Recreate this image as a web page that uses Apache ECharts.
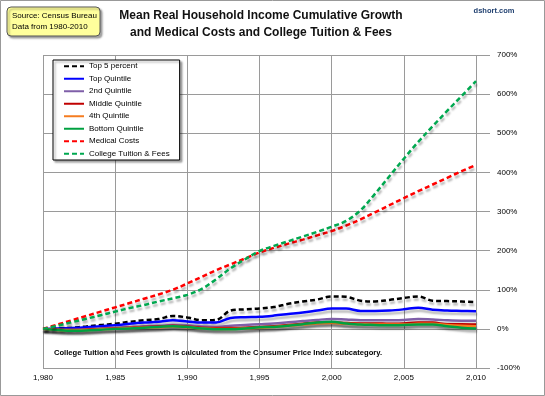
<!DOCTYPE html>
<html>
<head>
<meta charset="utf-8">
<script src="https://cdn.jsdelivr.net/npm/echarts@6/dist/echarts.min.js"></script>
<style>html,body{margin:0;padding:0;background:#fff;}#c{width:545px;height:396px;}</style>
</head>
<body>
<div id="c"></div>
<script>
var years = [1980,1981,1982,1983,1984,1985,1986,1987,1988,1989,1990,1991,1992,1993,1994,1995,1996,1997,1998,1999,2000,2001,2002,2003,2004,2005,2006,2007,2008,2009,2010];
var top5 = [0,1,3,6,10,13,18,22,25,33,29,22,23,47,50,52,56,64,70,75,83,82,72,70,74,79,83,72,71,70,68];
var topQuintile = [0,1,2,4,7,9,13,16,18,22,19,16,16,28,30,31,34,38,42,47,52,52,46,46,47,50,54,49,47,46,45];
var secondQuintile = [0,-1,-2,-1,1,3,5,7,8,10,9,6,5,8,10,12,14,17,20,23,25,24,22,22,22,23,25,24,22,21,21];
var middleQuintile = [0,-2,-3,-2,0,1,3,5,6,8,6,3,2,2,3,5,7,10,13,16,17,15,14,14,13,14,16,16,12,12,11];
var fourthQuintile = [0,-3,-4,-3,-1,0,2,3,4,6,4,1,0,0,1,3,5,8,11,14,15,13,12,11,11,11,13,13,10,8,7];
var bottomQuintile = [0,-3,-5,-4,-2,0,1,3,5,7,5,1,-1,-1,1,4,5,8,12,16,18,14,11,10,9,10,11,11,7,3,1];
var medicalCosts = [0,11,22,33,44,55,66,77,88,100,116,133,150,165,180,195,207,218,228,239,250,264,280,298,316,334,352,369,386,403,419];
var collegeTuition = [0,8,17,26,35,44,53,61,70,78,87,102,127,155,178,199,212,224,236,248,261,276,303,345,390,435,478,518,557,595,633];

var seriesNames = ['Top 5 percent','Top Quintile','2nd Quintile','Middle Quintile','4th Quintile','Bottom Quintile','Medical Costs','College Tuition & Fees'];
var seriesData = [top5, topQuintile, secondQuintile, middleQuintile, fourthQuintile, bottomQuintile, medicalCosts, collegeTuition];
var seriesColors = ['#000000','#0000FF','#7F5FA8','#C00000','#F57C20','#00A040','#FF0000','#00A850'];
var seriesDashed = [true,false,false,false,false,false,true,true];

function pairs(arr){ return years.map(function(y,i){ return [y, arr[i]]; }); }

var font = 'Liberation Sans, Arial, sans-serif';
var chart = echarts.init(document.getElementById('c'), null, {renderer:'canvas'});

var series = seriesNames.map(function(n,i){
  return {
    name: n, type: 'line', data: pairs(seriesData[i]), showSymbol: false, symbol: 'none',
    smooth: 0.35,
    lineStyle: { color: seriesColors[i], width: 2.5, type: seriesDashed[i] ? [5,3] : 'solid',
      shadowColor: 'rgba(0,0,0,0.28)', shadowBlur: 2, shadowOffsetX: 1, shadowOffsetY: 3 },
    itemStyle: { color: seriesColors[i] },
    emphasis: { disabled: true }
  };
});

chart.setOption({
  animation: false,
  backgroundColor: '#ffffff',
  grid: { left: 43, right: 69, top: 55, bottom: 28 },
  xAxis: {
    type: 'value', min: 1980, max: 2010, interval: 5,
    axisLine: { show: false }, axisTick: { show: false },
    axisLabel: { fontSize: 8, color: '#000', fontFamily: font, margin: 6 },
    splitLine: { show: true, lineStyle: { color: '#9a9a9a', width: 1 } }
  },
  yAxis: {
    type: 'value', position: 'right', min: -100, max: 700, interval: 100,
    axisLine: { show: false },
    axisTick: { show: true, length: 14, lineStyle: { color: '#9a9a9a' } },
    axisLabel: { fontSize: 8, color: '#000', fontFamily: font, margin: 21, formatter: '{value}%' },
    splitLine: { show: true, lineStyle: { color: '#9a9a9a', width: 1 } }
  },
  legend: {
    data: seriesNames, orient: 'vertical', left: 53, top: 60,
    itemWidth: 20, itemHeight: 9, itemGap: 0,
    padding: [0, 10, 0, 10],
    itemStyle: { opacity: 0 },
    backgroundColor: '#fff', borderColor: '#000', borderWidth: 1,
    shadowColor: 'rgba(0,0,0,0.35)', shadowBlur: 2, shadowOffsetX: 2, shadowOffsetY: 2,
    textStyle: { fontSize: 8, color: '#000', fontFamily: font, lineHeight: 12.5 }
  },
  graphic: [
    { type: 'rect', shape: { x: 0.5, y: 0.5, width: 544, height: 395 }, style: { fill: 'none', stroke: '#999', lineWidth: 1 }, silent: true },
    { type: 'rect', shape: { x: 7, y: 7, width: 93, height: 29, r: 4 },
      style: { fill: '#FFFF9C', stroke: '#555', lineWidth: 1, shadowColor: 'rgba(0,0,0,0.35)', shadowBlur: 2, shadowOffsetX: 2, shadowOffsetY: 2 } },
    { type: 'text', left: 12, top: 11, style: { text: 'Source: Census Bureau\nData from 1980-2010', fontSize: 8, lineHeight: 10.5, fill: '#000', fontFamily: font } },
    { type: 'text', x: 261, y: 16, style: { text: 'Mean Real Household Income Cumulative Growth', fontSize: 12, fontWeight: 'bold', fill: '#111', fontFamily: font, align: 'center', verticalAlign: 'middle' } },
    { type: 'text', x: 261, y: 33, style: { text: 'and Medical Costs and College Tuition & Fees', fontSize: 12, fontWeight: 'bold', fill: '#111', fontFamily: font, align: 'center', verticalAlign: 'middle' } },
    { type: 'text', x: 494, y: 11, style: { text: 'dshort.com', fontSize: 7.5, fontWeight: 'bold', fill: '#1F3F6F', fontFamily: font, align: 'center', verticalAlign: 'middle' } },
    { type: 'text', x: 54, y: 353, style: { text: 'College Tuition and Fees growth is calculated from the Consumer Price Index subcategory.', fontSize: 7.6, fontWeight: 'bold', fill: '#000', fontFamily: font, align: 'left', verticalAlign: 'middle' } }
  ],
  series: series
});
</script>
</body>
</html>
